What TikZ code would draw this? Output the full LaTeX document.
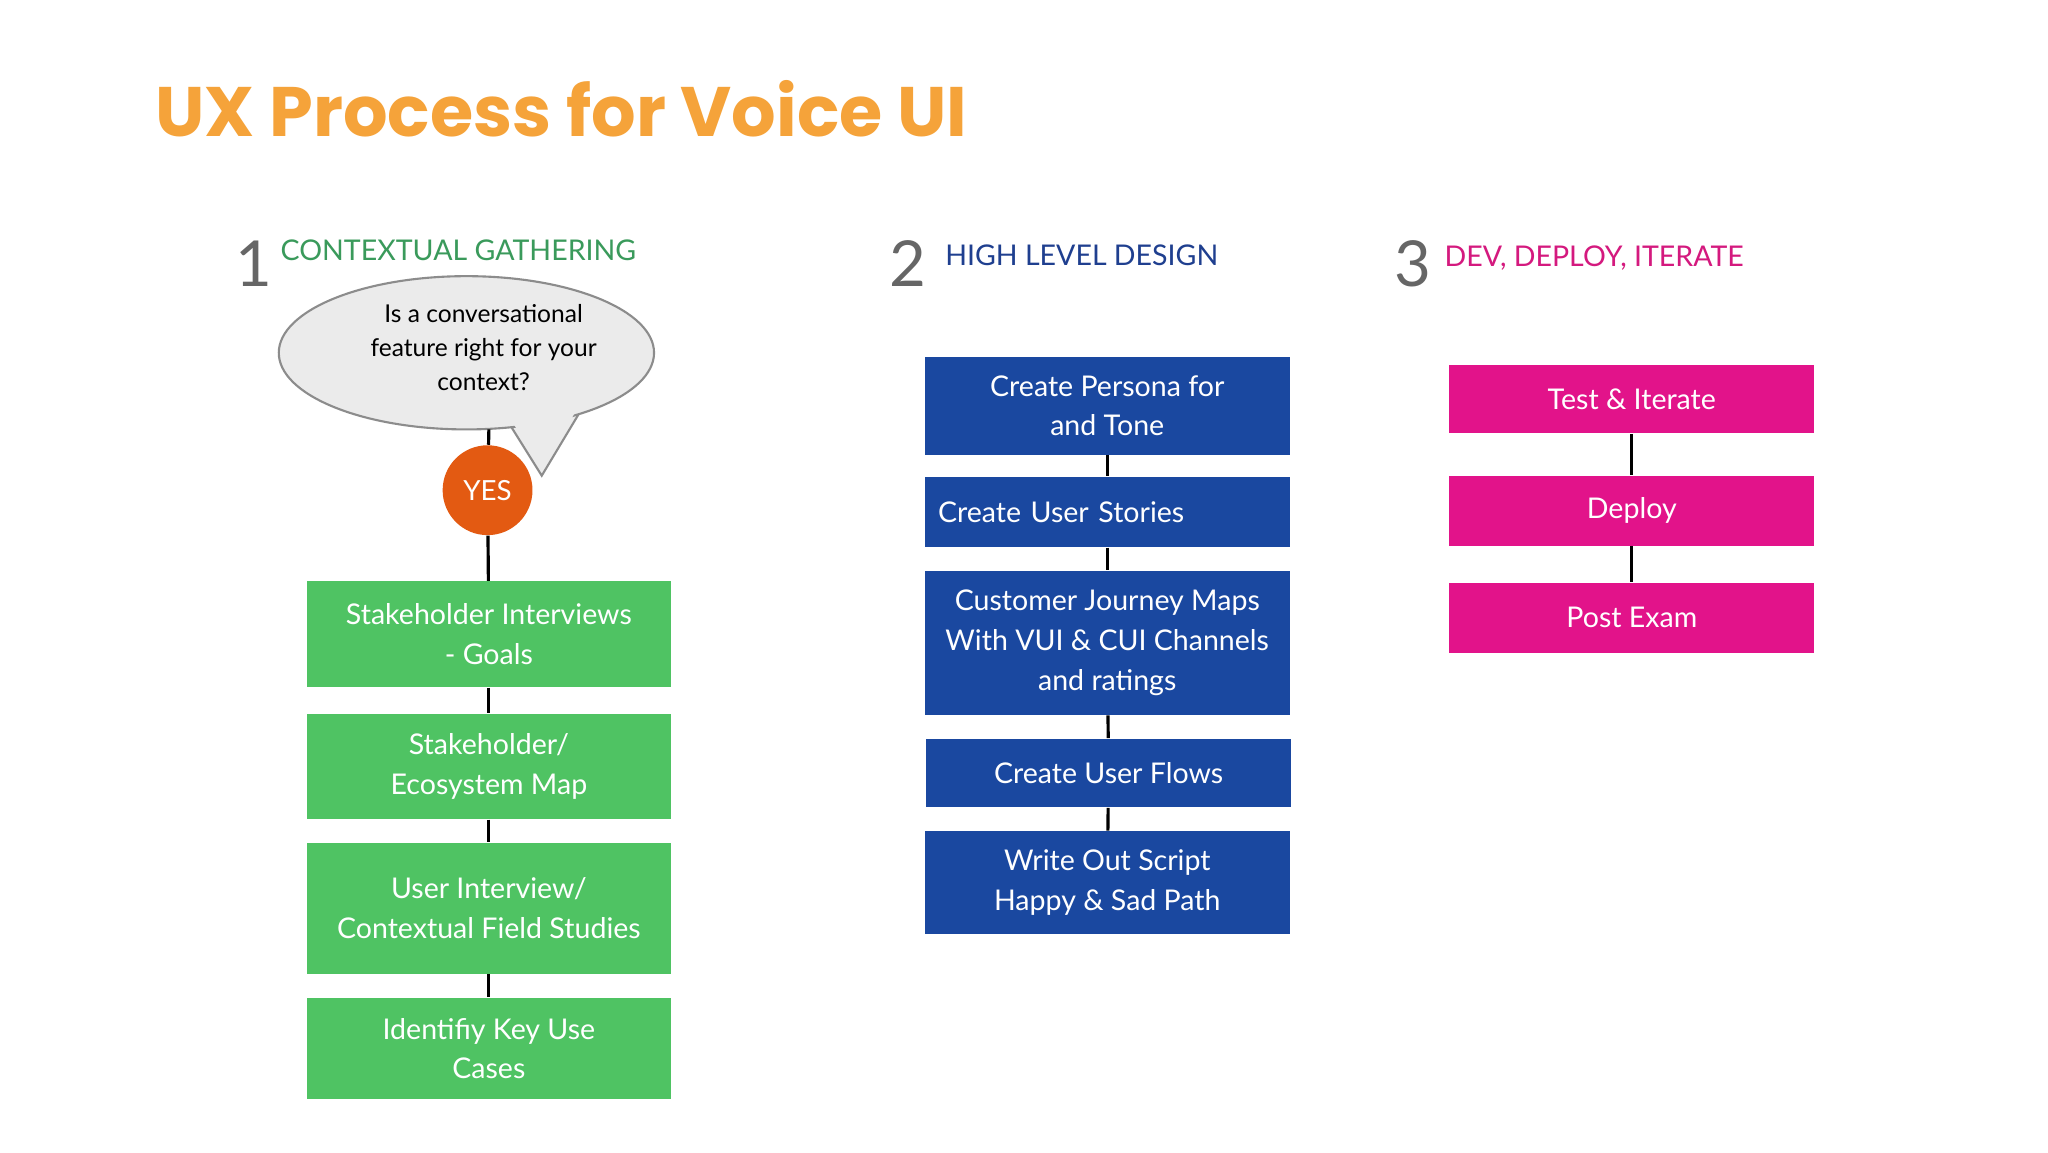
\documentclass[tikz,border=0pt]{standalone}
\usepackage{fontspec}
\usetikzlibrary{shapes.geometric}
\setmainfont{Lato}
\newfontfamily\titlefont{Poppins}
\definecolor{torange}{HTML}{F5A33A}
\definecolor{gtxt}{HTML}{3A9A5B}
\definecolor{gbox}{HTML}{4FC363}
\definecolor{btxt}{HTML}{1F3F8F}
\definecolor{bbox}{HTML}{1A48A0}
\definecolor{ptxt}{HTML}{D4197E}
\definecolor{pbox}{HTML}{E2138A}
\definecolor{yesc}{HTML}{E35A12}
\definecolor{bub}{HTML}{EBEBEB}
\begin{document}
\begin{tikzpicture}[x=0.5pt,y=-0.5pt,
  box/.style={draw=none,text=white,align=center,font=\fontsize{10.8}{15}\selectfont,inner sep=0pt,minimum width=138pt},
  conn/.style={draw=black,line width=1.2pt},
  num/.style={text=black!60,font=\fontsize{24}{24}\selectfont,anchor=base west,inner sep=0pt},
  hdr/.style={font=\fontsize{10.8}{13}\selectfont,anchor=base west,inner sep=0pt}]
\useasboundingbox (0,0) rectangle (1550,872);
\fill[white] (0,0) rectangle (1550,872);
\node[anchor=base west,text=torange,font=\titlefont\bfseries\fontsize{26.5}{30}\selectfont,inner sep=0pt] (title) at (117,103) {UX Process for Voice UI};
% column 1
\node[num] (n1) at (178,217) {1};
\node[hdr,text=gtxt] (h1) at (212,197) {CONTEXTUAL GATHERING};
\draw[black!45,fill=bub,line width=0.8pt] (385,320) -- (410,360) -- (440,310) -- cycle;
\node[ellipse,draw=black!45,fill=bub,line width=0.8pt,minimum width=142pt,minimum height=58pt,inner sep=0pt] (bubble) at (353,267) {};
\fill[bub] (387,318) -- (410,356) -- (437,309) -- cycle;
\node[align=center,font=\fontsize{9.3}{13}\selectfont] (q) at (366,263) {Is a conversational\\feature right for your\\context?};
\coordinate (qb) at (370,325);
\node[circle,fill=yesc,minimum size=34pt,inner sep=0pt,text=white,font=\fontsize{10.5}{12}\selectfont] (yes) at (369,371) {YES};
\node[box,fill=gbox,minimum height=40pt] (g1) at (370,480) {Stakeholder Interviews\\- Goals};
\node[box,fill=gbox,minimum height=40pt] (g2) at (370,580) {Stakeholder/\\Ecosystem Map};
\node[box,fill=gbox,minimum height=49.5pt] (g3) at (370,687.5) {User Interview/\\Contextual Field Studies};
\node[box,fill=gbox,minimum height=38.5pt] (g4) at (370,793.5) {Identifiy Key Use\\Cases};
\draw[conn] (qb) -- (yes);
\draw[conn] (yes) -- (g1);
\draw[conn] (g1) -- (g2);
\draw[conn] (g2) -- (g3);
\draw[conn] (g3) -- (g4);
% column 2
\node[num] (n2) at (673,217) {2};
\node[hdr,text=btxt] (h2) at (715,201) {HIGH LEVEL DESIGN};
\node[box,fill=bbox,minimum height=37pt] (b1) at (838,307) {Create Persona for\\and Tone};
\node[box,fill=bbox,minimum height=26.5pt,text width=128pt,align=left] (b2) at (838,387.5) {Create User Stories};
\node[box,fill=bbox,minimum height=54.5pt] (b3) at (838,486.5) {Customer Journey Maps\\With VUI \& CUI Channels\\and ratings};
\node[box,fill=bbox,minimum height=26pt] (b4) at (839,585) {Create User Flows};
\node[box,fill=bbox,minimum height=39pt] (b5) at (838,668) {Write Out Script\\Happy \& Sad Path};
\draw[conn] (b1) -- (b2);
\draw[conn] (b2) -- (b3);
\draw[conn] (b3) -- (b4);
\draw[conn] (b4) -- (b5);
% column 3
\node[num] (n3) at (1055,217) {3};
\node[hdr,text=ptxt] (h3) at (1093,202) {DEV, DEPLOY, ITERATE};
\node[box,fill=pbox,minimum height=26pt] (p1) at (1235,302) {Test \& Iterate};
\node[box,fill=pbox,minimum height=26.5pt] (p2) at (1235,386.5) {Deploy};
\node[box,fill=pbox,minimum height=26.5pt] (p3) at (1235,467.5) {Post Exam};
\draw[conn] (p1) -- (p2);
\draw[conn] (p2) -- (p3);
\end{tikzpicture}
\end{document}
